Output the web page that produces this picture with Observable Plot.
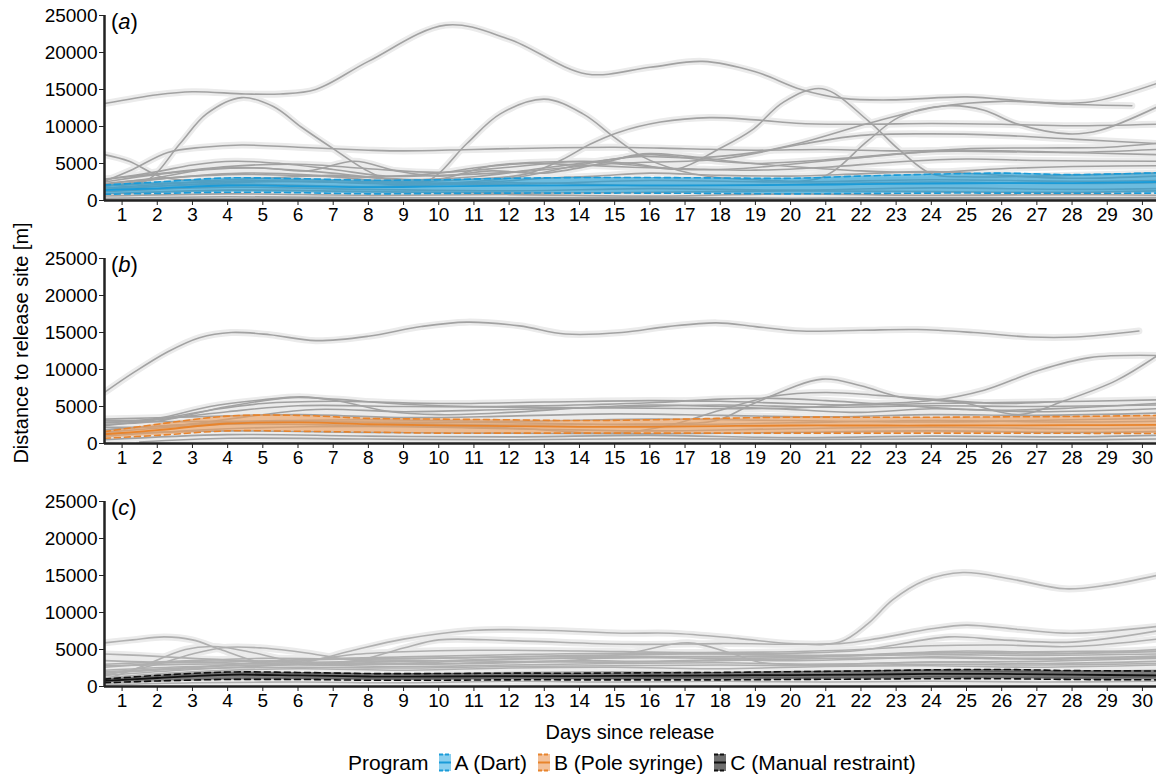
<!DOCTYPE html>
<html><head><meta charset="utf-8">
<script src="https://cdn.jsdelivr.net/npm/d3@7"></script>
<script src="https://cdn.jsdelivr.net/npm/@observablehq/plot@0.6"></script>
<style>
body{margin:0;background:#fff;font-family:"Liberation Sans",Arial,sans-serif;color:#000;}
#wrap{position:relative;width:1156px;height:776px;overflow:hidden;background:#fff;}
.panel{position:absolute;left:0;}
.plab{position:absolute;left:111px;font-size:22px;line-height:1;}
#ytitle{position:absolute;left:21px;top:343px;transform:translate(-50%,-50%) rotate(-90deg);white-space:nowrap;font-size:20px;line-height:1;}
#xtitle{position:absolute;left:104px;width:1052px;top:722px;text-align:center;font-size:20px;line-height:1;}
#legend{position:absolute;left:348px;top:752px;display:flex;align-items:center;font-size:21px;line-height:1;white-space:nowrap;}
#legend svg{margin:0 4px 0 0;}
</style></head><body><div id="wrap"></div>
<script>
// ---------- data ----------
const dayTicks = d3.range(1, 31);
const yTicks = [0, 5000, 10000, 15000, 20000, 25000];
const panelLabels = ["a", "b", "c"];
const programs = ["A (Dart)", "B (Pole syringe)", "C (Manual restraint)"];

// individual tracks [day, distance m]
const tracksA = [
  [[0.5,13100],[2,14300],[3,14700],[4.5,14400],[5.5,14400],[6.5,15000],[8,18800],[10.2,23700],[12,21800],[14.2,17100],[16,18000],[17.5,18800],[19,17400],[20.3,15000],[21.5,13800],[23,13600],[25,14000],[27,13300],[28.5,13300],[30.4,15800]],
  [[0.5,2100],[1.7,2700],[2.65,7700],[3.4,11700],[4.4,13900],[5.3,12700],[6.1,9900],[7,7000],[7.9,4200],[8.7,2600],[9.7,2700],[10.8,7700],[11.75,11700],[13,13700],[14.1,11700],[15,8500],[15.8,5900],[16.8,4100],[17.6,3300],[19,2800],[20.9,3150],[22.2,8100],[23.1,11300],[24.45,12800],[25.5,12200],[26.4,10400],[27.9,9000],[28.8,9500],[30.4,12600]],
  [[0.5,2900],[2,3600],[4,4600],[6,4900],[8,4300],[10,3800],[12,4500],[14,5300],[15.5,5000],[16.8,4300],[17.9,6800],[18.9,9500],[19.8,13300],[20.9,15100],[22.2,10800],[23.1,6800],[24,3600],[25,3200],[27,3300],[30.4,3700]],
  [[0.5,2600],[1.3,4200],[2.3,6500],[3.3,7200],[4.4,7500],[6,7200],[8,6800],[9,6700],[11,6900],[13,7100],[15,7200],[17,7000],[19,6800],[21,6900],[23,6700],[25,6800],[27,6600],[30.4,6200]],
  [[0.5,1700],[3,2400],[6,2800],[9,2500],[11,2900],[12.5,3600],[13.5,5500],[14.3,7600],[15.1,9200],[16.3,10600],[17.7,11200],[19,10900],[20.3,10400],[22,10300],[24,10400],[26,10300],[28,10100],[30.4,10300]],
  [[0.5,6200],[1.2,5300],[2.1,3200],[3,2700],[5,3000],[7,3400],[9,2800],[11,3200],[13,4400],[15,5600],[16,6200],[17.5,5500],[19,5000],[21,5500],[23,6300],[25,7000],[27,7100],[29,7200],[30.4,7700]],
  [[0.5,2800],[2,3900],[3,4800],[4.2,5300],[5.5,5000],[7,4200],[8.5,3300],[10,3700],[11,4400],[12.5,5000],[14,4800],[15.5,4500],[17,4300],[19,4100],[21,4500],[23,5200],[25,5600],[27,5400],[30.4,5300]],
  [[0.5,2200],[2,3100],[3.5,4300],[5,4400],[6.3,4000],[7.6,5300],[8.8,4000],[10,3300],[11.5,4000],[13,3700],[14.5,4900],[15.8,6300],[17,6000],[18.5,5200],[20,4600],[22,4000],[24,3800],[26,4300],[28,4600],[30.4,4700]],
  [[0.5,2500],[2.5,3800],[4.5,4400],[6.5,3900],[8.5,3000],[10,2900],[11.5,4700],[13,5200],[14.3,5200],[15.5,4800],[17,4200],[18.5,4300],[20,4900],[22,5800],[24,6600],[26,6600],[28,6500],[30.4,6900]],
  [[0.5,1900],[2.5,3100],[4.5,3700],[6.5,3400],[8.5,2600],[11,2400],[13,3000],[14.5,3300],[16,3700],[18,3400],[20,3300],[22,3600],[24,3900],[26,3400],[28,3000],[30.4,3300]],
  [[0.5,1500],[3,2200],[6,2600],[9,2200],[12,3000],[14,4800],[15.5,5900],[17.4,5800],[19,6500],[20.3,7800],[22.2,10400],[24.1,12600],[26,13400],[27.9,13000],[29.7,12800]],
  [[0.5,2300],[4,3500],[8,3200],[12,3800],[15,5000],[18,5600],[20.3,7600],[22,8800],[24,9000],[26,8800],[28,8300],[30.4,7700]],
  [[0.5,1200],[4,1800],[8,1500],[12,1300],[16,1600],[20,1400],[24,1700],[28,1500],[30.4,1600]],
  [[0.5,600],[4,900],[8,700],[12,800],[16,600],[20,900],[24,700],[28,800],[30.4,700]],
  [[0.5,300],[4,500],[8,400],[12,350],[16,450],[20,300],[24,400],[28,350],[30.4,400]],
  [[0.5,2000],[4,2600],[8,2400],[12,2200],[16,2700],[20,2500],[24,2800],[28,2600],[30.4,2700]],
  [[0.5,900],[4,1400],[8,1200],[12,1000],[16,1100],[20,1300],[24,1200],[28,1100],[30.4,1300]],
  [[0.5,1600],[4,2200],[8,1900],[12,2400],[16,2000],[20,2200],[24,2500],[28,2300],[30.4,2400]],
  [[0.5,150],[5,250],[10,200],[15,300],[20,200],[25,250],[30.4,200]]
];
const tracksB = [
  [[0.5,6900],[1.3,9500],[2.3,12400],[3.2,14300],[4.1,15000],[5.2,14700],[6.5,13900],[8,14500],[9.5,15800],[10.8,16400],[12.3,15900],[13.6,14800],[15.2,15000],[16.5,15800],[17.9,16300],[19,15800],[20.3,15200],[22,15300],[23.6,15400],[25.2,15000],[26.8,14400],[28.1,14400],[29.9,15200]],
  [[0.5,1800],[3,2600],[6,3000],[9,2700],[12,2500],[15,2600],[16.8,2700],[17.9,3100],[19,5500],[20.9,8700],[22,7800],[23.1,6300],[24.9,5500],[26.5,3900],[27.8,5800],[29.25,8500],[30.4,11800]],
  [[0.5,2400],[2,3200],[4,4300],[6,5100],[9,5000],[12,4900],[15,4800],[18,4700],[20,4800],[22,5300],[24,5800],[25.5,7200],[27,9800],[28.5,11600],[30.4,11900]],
  [[0.5,2800],[2,3400],[3.5,5000],[5,5900],[6.1,6300],[7.2,5700],[8.5,4400],[10,3900],[12,4200],[14,4800],[16,5200],[18,5000],[20,4600],[22,4200],[24,4700],[26,4500],[28,4800],[30.4,5400]],
  [[0.5,3100],[2,3300],[3.5,4500],[5,5400],[7,5700],[10,5400],[13,5600],[16,5800],[18,5700],[20,5400],[22,5200],[24,5400],[27,5600],[30.4,5900]],
  [[0.5,2600],[2,3000],[4,5000],[5.8,6200],[7,6000],[9,5300],[11,5000],[13,5100],[16,5500],[18,6000],[19.5,6100],[21,5800],[23,5200],[25,4600],[27,4300],[30.4,4700]],
  [[0.5,1500],[4,2600],[8,2400],[12,2100],[15,1400],[16.5,2400],[18,4500],[19.5,6400],[21,6900],[22.5,6500],[24,6000],[26,5400],[27.7,5700]],
  [[0.5,2200],[2.5,2400],[4.5,3600],[6.5,4600],[9,4300],[12,4600],[15,4900],[18,5200],[21,4900],[24,5100],[27,5000],[30.4,5200]],
  [[0.5,3300],[3,3600],[6,3900],[9,3500],[12,3700],[15,4000],[18,3800],[21,3600],[24,3900],[27,3800],[30.4,4100]],
  [[0.5,1000],[4,2000],[8,2300],[12,2000],[16,1700],[20,2000],[24,2200],[28,2000],[30.4,2100]],
  [[0.5,500],[4,1200],[8,1000],[12,900],[16,1100],[20,800],[24,1000],[28,900],[30.4,1100]],
  [[1.5,200],[4,700],[8,600],[12,500],[16,650],[20,550],[24,600],[28,500],[30.4,600]],
  [[0.5,2900],[4,3000],[8,3200],[12,3000],[16,3300],[20,3100],[24,2900],[28,3200],[30.4,3400]],
  [[0.5,1900],[4,2800],[8,2900],[12,2800],[16,2500],[20,2800],[24,3100],[28,2900],[30.4,3000]],
  [[0.5,1300],[4,1700],[8,1500],[12,1400],[16,1300],[20,1500],[24,1700],[28,1500],[30.4,1600]]
];
const tracksC = [
  [[0.5,5900],[1.3,6300],[2.2,6700],[3,6300],[3.8,5000],[4.9,3300],[6,3000],[8,3200],[10,3100],[12,3300],[14,3500],[16,3400],[18,3600],[20,3500],[22,3700],[24,4000],[27,3800],[30.4,4100]],
  [[0.5,4400],[1.5,4200],[3,3800],[4.5,3500],[6,3400],[7.5,4300],[9,4700],[11,4900],[14,4800],[17,4600],[20,4700],[22,5000],[24,5500],[26,5600],[28,5400],[30.4,6400]],
  [[0.5,900],[1.5,2600],[2.8,5000],[3.6,5400],[4.5,4800],[6.1,3200],[8,3000],[10,3300],[12,3700],[14,3800],[16,3900],[18,3800],[20,3900],[22,4200],[24,4600],[27,4400],[30.4,4700]],
  [[0.5,1500],[2,3000],[3,4400],[4,5300],[5,5200],[6.3,4500],[7.5,3600],[9,3400],[11,3600],[13,3800],[16,4000],[19,4100],[22,4300],[25,4800],[28,4500],[30.4,5000]],
  [[0.5,1800],[2,2300],[4,2800],[6.1,3200],[7.5,4800],[9,6400],[11,7600],[13,7600],[15.2,7200],[16.6,7200],[18.5,6500],[20,5800],[21.4,6000],[22.2,8500],[22.9,11700],[23.8,14300],[24.9,15400],[26.3,14500],[27.8,13200],[29,13700],[30.4,15000]],
  [[0.5,1500],[3,2300],[6,3000],[7.6,3400],[9,5200],[10,6300],[12,6200],[15.4,5700],[18,5800],[21.4,5800],[22.5,6500],[24,7800],[25,8300],[26.5,7700],[28,7200],[30.4,8100]],
  [[0.5,2600],[3,3400],[6,3300],[9,3000],[12,3200],[14,3600],[15.5,4600],[17.1,5900],[18.3,4500],[19.2,3200],[21,3000],[24,3300],[27,3400],[30.4,3800]],
  [[0.5,3000],[3,3500],[5,3800],[8,3700],[11,3900],[14,4200],[17,4400],[20,4500],[22,4900],[24.5,6700],[26,6300],[28,6000],[30.4,7500]],
  [[0.5,2200],[3,2700],[6,2900],[9,2700],[12,2900],[15,3100],[18,3200],[21,3000],[24,3300],[27,3100],[30.4,3400]],
  [[0.5,2000],[3,2600],[6,3600],[9,4000],[12,4300],[15,4500],[18,4400],[21,4200],[24,4500],[27,4700],[30.4,4800]],
  [[0.5,1200],[3,2000],[6,2400],[9,2200],[12,2500],[15,2600],[18,2400],[21,2700],[24,2800],[27,2600],[30.4,2900]],
  [[0.5,800],[3,1500],[6,1800],[9,1700],[12,1900],[15,2000],[18,1900],[21,2100],[24,2200],[27,2000],[30.4,2200]],
  [[0.5,400],[3,900],[6,1100],[9,1000],[12,1200],[15,1100],[18,1300],[21,1200],[24,1300],[27,1200],[30.4,1300]],
  [[0.5,2800],[3,3000],[6,3200],[9,3500],[12,3400],[15,3300],[18,3500],[21,3800],[24,3900],[27,3700],[30.4,3900]],
  [[0.5,3500],[3,3200],[6,3600],[9,3800],[12,4000],[15,4100],[18,4000],[21,4100],[24,4300],[27,4200],[30.4,4400]],
  [[0.5,1800],[3,2400],[6,2600],[9,2500],[12,2700],[15,2800],[18,2900],[21,2800],[24,3000],[27,2900],[30.4,3100]],
  [[0.5,200],[3,500],[6,600],[9,500],[12,700],[15,600],[18,700],[21,600],[24,700],[27,600],[30.4,700]]
];

// program mean and confidence band
const bandDays = [0.5,2,4,6,8,10,12,14,16,18,20,22,24,26,28,30.4];
const upperA = [2100,2500,3050,2950,2750,2800,3000,3100,3100,3050,3000,3300,3550,3700,3500,3750];
const meanA  = [1400,1650,2030,1950,1800,1900,2000,2050,2050,2050,2100,2200,2300,2350,2350,2500];
const lowerA = [850,950,1120,1050,900,950,1000,1000,1000,950,900,950,1000,1000,980,1000];
const upperB = [1600,2600,3700,3800,3400,3300,3200,3100,3200,3400,3550,3550,3550,3600,3650,3800];
const meanB  = [1250,1800,2700,2850,2600,2450,2350,2250,2250,2350,2430,2430,2430,2450,2480,2520];
const lowerB = [700,1100,1700,1650,1530,1400,1400,1400,1400,1400,1400,1400,1400,1400,1380,1350];
const upperC = [1000,1500,1950,1900,1750,1750,1800,1800,1850,1900,2000,2100,2250,2300,2150,2100];
const meanC  = [750,1150,1580,1500,1350,1350,1400,1400,1450,1500,1550,1600,1700,1700,1600,1500];
const lowerC = [500,750,950,950,850,850,900,900,900,900,950,1000,1050,1050,950,900];

// ---------- drawing ----------
const wrap = document.getElementById("wrap");
const FONT = "'Liberation Sans', Arial, sans-serif";
const panelSpecs = [
  {tracks: tracksA, lo: lowerA, mid: meanA, hi: upperA, line: "#1a9bd8", fill: "#1f9ed6", fop: 0.62, gray: "#a2a2a2"},
  {tracks: tracksB, lo: lowerB, mid: meanB, hi: upperB, line: "#e8842c", fill: "#eea060", fop: 0.62, gray: "#a2a2a2"},
  {tracks: tracksC, lo: lowerC, mid: meanC, hi: upperC, line: "#111111", fill: "#333333", fop: 0.6, gray: "#b0b0b0"}
];

panelSpecs.forEach((p, k) => {
  const rows = p.tracks.flatMap((t, i) => t.map(([d, v]) => ({id: i, day: d, value: v})));
  const band = bandDays.map((d, i) => ({day: d, lo: p.lo[i], mid: p.mid[i], hi: p.hi[i]}));
  const chart = Plot.plot({
    width: 1156, height: 243,
    marginLeft: 104, marginRight: 0, marginTop: 15, marginBottom: 43,
    x: {domain: [0.5, 30.4]},
    y: {domain: [0, 25000]},
    style: {fontFamily: FONT, fontSize: "19px", color: "#000", background: "transparent", overflow: "visible"},
    marks: [
      Plot.line(rows, {x: "day", y: "value", z: "id", curve: "catmull-rom", stroke: "#ebebeb", strokeWidth: 7, clip: true}),
      Plot.line(rows, {x: "day", y: "value", z: "id", curve: "catmull-rom", stroke: p.gray, strokeWidth: 1.6, clip: true}),
      Plot.areaY(band, {x: "day", y1: "lo", y2: "hi", curve: "catmull-rom", fill: p.fill, fillOpacity: p.fop, clip: true}),
      Plot.line(band, {x: "day", y: "lo", curve: "catmull-rom", stroke: p.line, strokeWidth: 1.6, strokeDasharray: "6,4", clip: true}),
      Plot.line(band, {x: "day", y: "hi", curve: "catmull-rom", stroke: p.line, strokeWidth: 1.6, strokeDasharray: "6,4", clip: true}),
      Plot.line(band, {x: "day", y: "mid", curve: "catmull-rom", stroke: p.line, strokeWidth: 1.8, clip: true}),
      Plot.axisX({ticks: dayTicks, tickSize: 5, tickPadding: 2, fontSize: 19, tickFormat: d => String(d), label: null, stroke: "#222"}),
      Plot.axisY({ticks: yTicks, tickSize: 5, tickPadding: 2, fontSize: 19, tickFormat: d => String(d), label: null, stroke: "#222"}),
      Plot.ruleY([0], {stroke: "#222", strokeWidth: 2.5}),
      Plot.ruleX([0.5], {y1: 0, y2: 25000, stroke: "#222", strokeWidth: 2.5})
    ]
  });
  chart.classList.add("panel");
  chart.style.top = (k * 243) + "px";
  wrap.appendChild(chart);
  const lab = document.createElement("div");
  lab.className = "plab";
  lab.style.top = (k * 243 + 11) + "px";
  lab.innerHTML = "(<i>" + panelLabels[k] + "</i>)";
  wrap.appendChild(lab);
});

const yt = document.createElement("div");
yt.id = "ytitle"; yt.textContent = "Distance to release site [m]";
wrap.appendChild(yt);
const xt = document.createElement("div");
xt.id = "xtitle"; xt.textContent = "Days since release";
wrap.appendChild(xt);

// legend
const lg = document.createElement("div");
lg.id = "legend";
const swatchFill = ["#8acfef", "#f3c19a", "#6e6e6e"];
let html = '<span style="margin-right:10px">Program</span>';
programs.forEach((name, i) => {
  const c = panelSpecs[i].line;
  html += '<svg width="12" height="19" viewBox="0 0 12 19">' +
    '<rect x="0" y="1" width="12" height="17" fill="' + swatchFill[i] + '"/>' +
    '<line x1="0" x2="12" y1="1.5" y2="1.5" stroke="' + c + '" stroke-width="2" stroke-dasharray="4,2"/>' +
    '<line x1="0" x2="12" y1="9.5" y2="9.5" stroke="' + c + '" stroke-width="2"/>' +
    '<line x1="0" x2="12" y1="17.5" y2="17.5" stroke="' + c + '" stroke-width="2" stroke-dasharray="4,2"/>' +
    '</svg><span style="margin-right:' + (i < 2 ? 11 : 0) + 'px">' + name + '</span>';
});
lg.innerHTML = html;
wrap.appendChild(lg);
</script></body></html>
